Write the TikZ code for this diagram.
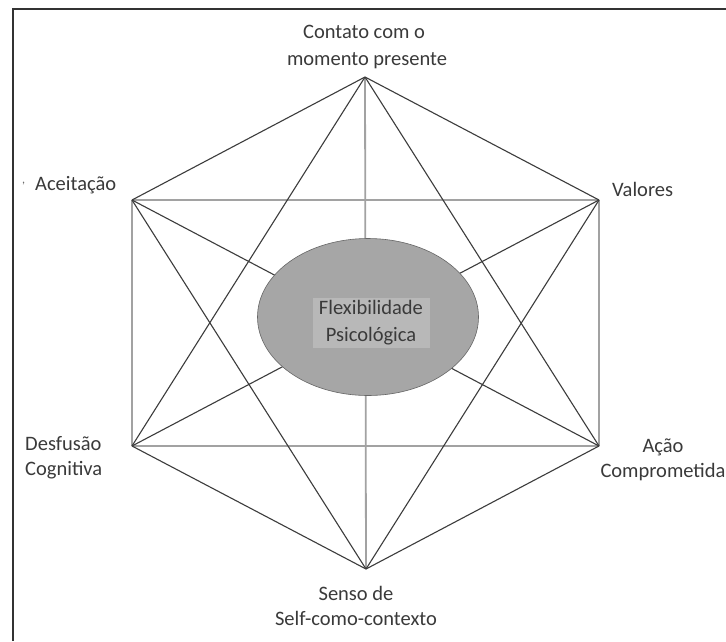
\documentclass[tikz,border=0pt]{standalone}
\usepackage{fontspec}
\setmainfont{Carlito}
\usetikzlibrary{shapes.geometric}
\definecolor{txt}{HTML}{3A3A3A}
\definecolor{dkline}{HTML}{3C3C3C}
\definecolor{ltline}{HTML}{A2A2A2}
\definecolor{corefill}{HTML}{A6A6A6}
\definecolor{boxfill}{HTML}{B8B8B8}
\begin{document}
\begin{tikzpicture}[x=1pt,y=-1pt,
  dk/.style={draw=dkline, line width=1.1pt},
  lt/.style={draw=ltline, line width=1.8pt},
  lbl/.style={font=\fontsize{20.5}{26}\selectfont, text=txt, inner sep=0pt}]
\useasboundingbox (0,0) rectangle (726,641);
\fill[white] (0,0) rectangle (726,641);
\coordinate (fb) at (13,641);
\coordinate (fc) at (13,9);
\coordinate (fr) at (726,9);
\draw[line width=2.2pt, black!80] (fb) -- (fc) -- (fr);
% vertices
\coordinate (T) at (365,77);
\coordinate (UL) at (132,200);
\coordinate (UR) at (599,200);
\coordinate (LL) at (132,446);
\coordinate (LR) at (599,446);
\coordinate (B) at (366,569);
% light lines
\draw[lt] (UL) -- (UR);
\draw[lt] (LL) -- (LR);
\draw[lt] (UL) -- (LL);
\draw[lt] (UR) -- (LR);
\draw[lt] (T) -- (B);
% dark lines
\draw[dk] (T) -- (UL);
\draw[dk] (T) -- (UR);
\draw[dk] (B) -- (LL);
\draw[dk] (B) -- (LR);
\draw[dk] (T) -- (LL);
\draw[dk] (T) -- (LR);
\draw[dk] (B) -- (UL);
\draw[dk] (B) -- (UR);
\draw[dk] (UL) -- (LR);
\draw[dk] (UR) -- (LL);
% centre
\node[ellipse, draw=black!60, line width=0.6pt, fill=corefill,
      minimum width=221pt, minimum height=157pt, inner sep=0pt] (core) at (368,317) {};
\node[fill=boxfill, minimum width=117pt, minimum height=50pt, inner sep=0pt,
      font=\fontsize{20.5}{27}\selectfont, text=txt, align=center] (flex) at (371,323)
      {Flexibilidade\\Psicológica};
% labels
\node[lbl, align=center, font=\fontsize{20.5}{27}\selectfont] (lT) at (364,46.5) {Contato com o\\\hspace*{6pt}momento presente};
\node[lbl, anchor=west] (lUL) at (35,185) {Aceitação};
\node[lbl, anchor=west, font=\fontsize{12}{12}\selectfont, text=black!60] (tick) at (22,184) {,};
\node[lbl, anchor=west] (lUR) at (612,189) {Valores};
\node[lbl, anchor=west, align=left, font=\fontsize{20.5}{25}\selectfont] (lLL) at (25,457.5) {Desfusão\\Cognitiva};
\node[lbl, align=center, font=\fontsize{20.5}{25}\selectfont] (lLR) at (663,459.5) {Ação\\Comprometida};
\node[lbl, align=center, font=\fontsize{20.5}{25}\selectfont] (lB) at (356,605.5) {Senso de\\Self-como-contexto};
\end{tikzpicture}
\end{document}
